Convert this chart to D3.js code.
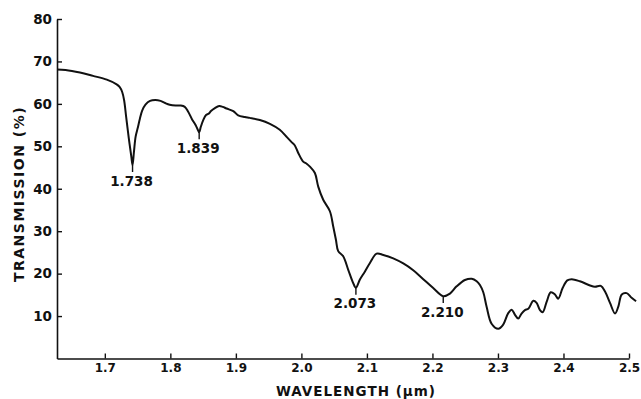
<!DOCTYPE html>
<html>
<head>
<meta charset="utf-8">
<script src="https://cdn.jsdelivr.net/npm/d3@7"></script>
<style>
  html, body { margin: 0; padding: 0; background: #fff; }
  svg { display: block; }
  text { font-family: "DejaVu Sans", sans-serif; font-weight: bold; fill: #111; }
</style>
</head>
<body>
<svg id="chart" width="641" height="399"></svg>
<script>
// ---- data ----
const wavelength = [
  1.627, 1.640, 1.662, 1.682, 1.703, 1.718, 1.7225, 1.7265, 1.7295, 1.7325,
  1.7365, 1.7405, 1.7423, 1.7445, 1.747, 1.7505, 1.7535, 1.757, 1.762, 1.769,
  1.777, 1.785, 1.792, 1.799, 1.808, 1.816, 1.822, 1.827, 1.833, 1.8385,
  1.8425, 1.844, 1.8465, 1.8505, 1.8545, 1.8585, 1.862, 1.868, 1.8745, 1.880,
  1.8858, 1.896, 1.9035, 1.9137, 1.9213, 1.9366, 1.952, 1.967, 1.977, 1.985,
  1.990, 1.995, 2.0027, 2.008, 2.013, 2.0206, 2.0257, 2.0333, 2.0435, 2.0486,
  2.0527, 2.0562, 2.0638, 2.0715, 2.079, 2.0832, 2.0893, 2.097, 2.1046, 2.1148,
  2.125, 2.1402, 2.1555, 2.1707, 2.186, 2.2012, 2.2165, 2.2267, 2.2369, 2.2496,
  2.26, 2.2675, 2.2725, 2.2776, 2.2827, 2.2903, 2.3005, 2.308, 2.3157, 2.3209,
  2.326, 2.331, 2.336, 2.3412, 2.3463, 2.354, 2.359, 2.3641, 2.3683, 2.3744,
  2.3805, 2.387, 2.392, 2.3987, 2.4058, 2.4125, 2.425, 2.4405, 2.448, 2.457,
  2.4634, 2.471, 2.4787, 2.4838, 2.489, 2.4965, 2.504, 2.5108
];
const transmission = [
  68.1, 68.0, 67.4, 66.6, 65.7, 64.6, 64.0, 62.8, 60.8, 57.0,
  52.0, 47.5, 45.6, 48.8, 52.3, 54.5, 56.5, 58.4, 59.8, 60.7,
  60.9, 60.7, 60.2, 59.8, 59.6, 59.6, 59.3, 58.2, 56.4, 55.0,
  53.7, 53.3, 54.6, 56.3, 57.4, 57.7, 58.3, 59.0, 59.5, 59.3,
  58.9, 58.3, 57.3, 56.9, 56.7, 56.2, 55.3, 53.9, 52.3, 51.0,
  50.2, 48.5, 46.4, 45.9, 45.2, 43.7, 40.5, 37.4, 34.7, 31.1,
  28.0, 25.3, 24.1, 20.9, 17.8, 16.7, 18.6, 20.5, 22.5, 24.7,
  24.4, 23.6, 22.4, 20.8, 18.7, 16.6, 14.7, 15.3, 17.0, 18.5,
  18.8, 18.2, 17.3, 15.6, 12.2, 8.2, 7.0, 8.0, 10.7, 11.5,
  10.3, 9.4, 10.6, 11.4, 11.7, 13.6, 13.1, 11.4, 10.9, 13.4,
  15.6, 15.1, 14.1, 16.6, 18.4, 18.7, 18.2, 17.2, 16.9, 17.1,
  15.8, 13.1, 10.6, 12.3, 15.1, 15.4, 14.3, 13.5
];
const xTickValues = [1.7, 1.8, 1.9, 2.0, 2.1, 2.2, 2.3, 2.4, 2.5];
const xTickLabels = ["1.7", "1.8", "1.9", "2.0", "2.1", "2.2", "2.3", "2.4", "2.5"];
const yTickValues = [10, 20, 30, 40, 50, 60, 70, 80];
const yTickLabels = ["10", "20", "30", "40", "50", "60", "70", "80"];
const peakLabels = ["1.738", "1.839", "2.073", "2.210"];
const peakWavelength = [1.7423, 1.8440, 2.0832, 2.2165];
const peakTransmission = [45.6, 53.3, 16.7, 14.7];
const xTitle = "WAVELENGTH (\u03bcm)";
const yTitle = "TRANSMISSION (%)";

// ---- layout ----
const svg = d3.select("#chart");
const x = d3.scaleLinear().domain([1.627, 2.5]).range([57, 629]);
const y = d3.scaleLinear().domain([0, 80]).range([358.5, 19]);

svg.append("rect").attr("width", 641).attr("height", 399).attr("fill", "#fff");

// axes
const xAxis = d3.axisBottom(x)
  .tickValues(xTickValues)
  .tickFormat((d, i) => xTickLabels[i])
  .tickSizeInner(-5).tickSizeOuter(0).tickPadding(5);
const gx = svg.append("g").attr("transform", `translate(0,${y(0)})`).call(xAxis);
gx.select(".domain").attr("stroke", "#111").attr("stroke-width", 1.6);
gx.selectAll(".tick line").attr("stroke", "#111").attr("stroke-width", 1.4);
gx.selectAll(".tick text").style("font-size", "12px").attr("fill", "#111");

const yAxis = d3.axisLeft(y)
  .tickValues(yTickValues)
  .tickFormat((d, i) => yTickLabels[i])
  .tickSizeInner(-5).tickSizeOuter(0).tickPadding(5);
const gy = svg.append("g").attr("transform", `translate(${x(1.627)},0)`).call(yAxis);
gy.select(".domain").attr("stroke", "#111").attr("stroke-width", 1.6);
gy.selectAll(".tick line").attr("stroke", "#111").attr("stroke-width", 1.4);
gy.selectAll(".tick text").style("font-size", "13.5px").attr("fill", "#111");

// curve
const pts = wavelength.map((w, i) => [w, transmission[i]]);
const line = d3.line()
  .x(d => x(d[0]))
  .y(d => y(d[1]))
  .curve(d3.curveCatmullRom.alpha(0.5));
svg.append("path")
  .datum(pts)
  .attr("d", line)
  .attr("fill", "none")
  .attr("stroke", "#111")
  .attr("stroke-width", 2)
  .attr("stroke-linejoin", "round");

// peak annotations
peakLabels.forEach((lab, i) => {
  const px = x(peakWavelength[i]);
  const py = y(peakTransmission[i]);
  svg.append("line")
    .attr("x1", px).attr("x2", px)
    .attr("y1", py).attr("y2", py + 7)
    .attr("stroke", "#111").attr("stroke-width", 1.4);
  svg.append("text")
    .attr("x", px - 1)
    .attr("y", py + 8)
    .attr("dy", "0.95em")
    .attr("text-anchor", "middle")
    .style("font-size", "13.5px")
    .text(lab);
});

// axis titles
svg.append("text")
  .attr("x", 356).attr("y", 396)
  .attr("text-anchor", "middle")
  .style("font-size", "13.5px")
  .style("letter-spacing", "1px")
  .text(xTitle);

svg.append("text")
  .attr("transform", "translate(24,194) rotate(-90)")
  .attr("text-anchor", "middle")
  .style("font-size", "14px")
  .style("letter-spacing", "1.5px")
  .text(yTitle);
</script>
</body>
</html>
